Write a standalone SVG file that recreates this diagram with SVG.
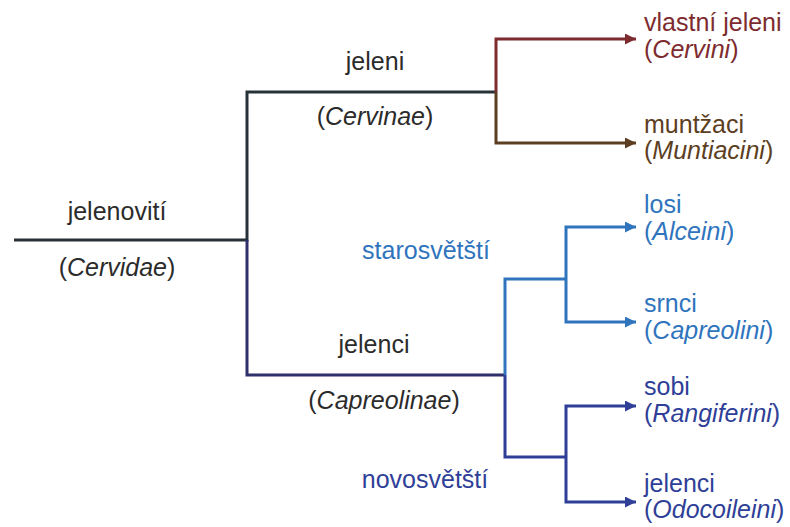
<svg xmlns="http://www.w3.org/2000/svg" width="790" height="527" viewBox="0 0 790 527">
<style>
text{font-family:"Liberation Sans",Arial,sans-serif;font-size:25px}
.i{font-style:italic}
.k{fill:#2b2b2b}
.r{fill:#7d2b2e}
.b{fill:#5c3e22}
.lb{fill:#2f74bd}
.nv{fill:#2f3f98}
.ln{fill:none;stroke-width:3;stroke-linejoin:miter;stroke-linecap:butt}
</style>
<defs>
<marker id="ar" markerUnits="userSpaceOnUse" markerWidth="12" markerHeight="11" refX="11" refY="5.5" orient="auto"><path d="M0,0 L11,5.5 L0,11 z" fill="#7d2b2e"/></marker>
<marker id="ab" markerUnits="userSpaceOnUse" markerWidth="12" markerHeight="11" refX="11" refY="5.5" orient="auto"><path d="M0,0 L11,5.5 L0,11 z" fill="#5c3e22"/></marker>
<marker id="al" markerUnits="userSpaceOnUse" markerWidth="12" markerHeight="11" refX="11" refY="5.5" orient="auto"><path d="M0,0 L11,5.5 L0,11 z" fill="#2f74bd"/></marker>
<marker id="an" markerUnits="userSpaceOnUse" markerWidth="12" markerHeight="11" refX="11" refY="5.5" orient="auto"><path d="M0,0 L11,5.5 L0,11 z" fill="#2f3f98"/></marker>
</defs>
<g id="connectors">
<path class="ln" stroke="#263238" d="M14,240 H247 M247,241.5 V92 H496"/>
<path class="ln" stroke="#2e2f6b" d="M247,240 V375 H505"/>
<path class="ln" stroke="#7d2b2e" d="M496,92 V39 H636" marker-end="url(#ar)"/>
<path class="ln" stroke="#5c3e22" d="M496,92 V143 H636" marker-end="url(#ab)"/>
<path class="ln" stroke="#2f74bd" d="M505,375 V279 H566"/>
<path class="ln" stroke="#2f74bd" d="M566,279 V227 H636" marker-end="url(#al)"/>
<path class="ln" stroke="#2f74bd" d="M566,279 V322 H636" marker-end="url(#al)"/>
<path class="ln" stroke="#2f3f98" d="M505,375 V457 H566"/>
<path class="ln" stroke="#2f3f98" d="M566,457 V406 H636" marker-end="url(#an)"/>
<path class="ln" stroke="#2f3f98" d="M566,457 V502 H636" marker-end="url(#an)"/>
</g>
<g id="cervidae">
<text class="k" x="117" y="220" text-anchor="middle">jelenovití</text>
<text class="k" x="117" y="276" text-anchor="middle">(<tspan class="i">Cervidae</tspan>)</text>
</g>
<g id="cervinae">
<text class="k" x="375" y="70" text-anchor="middle">jeleni</text>
<text class="k" x="375" y="125" text-anchor="middle">(<tspan class="i">Cervinae</tspan>)</text>
</g>
<g id="capreolinae">
<text class="k" x="374" y="353" text-anchor="middle">jelenci</text>
<text class="k" x="384" y="409" text-anchor="middle">(<tspan class="i">Capreolinae</tspan>)</text>
</g>
<g id="starosvetsti">
<text class="lb" x="426" y="259" text-anchor="middle">starosvětští</text>
</g>
<g id="novosvetsti">
<text class="nv" x="425" y="488" text-anchor="middle">novosvětští</text>
</g>
<g id="cervini">
<text class="r" x="644" y="31">vlastní jeleni</text>
<text class="r" x="644" y="58">(<tspan class="i">Cervini</tspan>)</text>
</g>
<g id="muntiacini">
<text class="b" x="644" y="133">muntžaci</text>
<text class="b" x="644" y="159">(<tspan class="i">Muntiacini</tspan>)</text>
</g>
<g id="alceini">
<text class="lb" x="644" y="213">losi</text>
<text class="lb" x="644" y="240">(<tspan class="i">Alceini</tspan>)</text>
</g>
<g id="capreolini">
<text class="lb" x="644" y="312">srnci</text>
<text class="lb" x="644" y="339">(<tspan class="i">Capreolini</tspan>)</text>
</g>
<g id="rangiferini">
<text class="nv" x="644" y="395">sobi</text>
<text class="nv" x="644" y="422">(<tspan class="i">Rangiferini</tspan>)</text>
</g>
<g id="odocoileini">
<text class="nv" x="644" y="492">jelenci</text>
<text class="nv" x="644" y="518">(<tspan class="i">Odocoileini</tspan>)</text>
</g>
</svg>
